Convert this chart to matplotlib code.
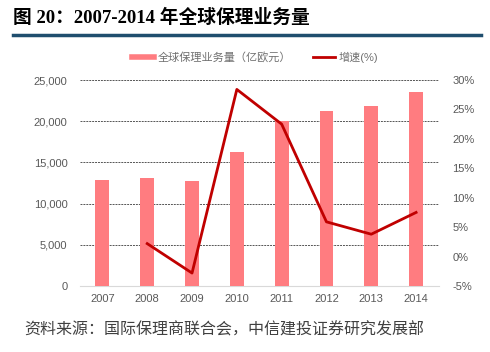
import matplotlib
matplotlib.use("Agg")
import matplotlib.pyplot as plt
from matplotlib.lines import Line2D
from matplotlib.ticker import FuncFormatter, MultipleLocator

years = ["2007", "2008", "2009", "2010", "2011", "2012", "2013", "2014"]
volume = [12900, 13100, 12800, 16300, 20000, 21200, 21900, 23600]
growth_years = ["2008", "2009", "2010", "2011", "2012", "2013", "2014"]
growth = [2.2, -2.8, 28.4, 22.5, 5.9, 3.8, 7.5]

title = "图 20：2007-2014 年全球保理业务量"
source = "资料来源：国际保理商联合会，中信建投证券研究发展部"
bar_label = "全球保理业务量（亿欧元）"
line_label = "增速(%)"

cjk = ["Liberation Sans", "Noto Sans CJK SC"]
plt.rcParams["font.family"] = cjk

fig = plt.figure(figsize=(4.9, 3.52), dpi=100)
ax = fig.add_axes([80 / 490, 66 / 352, 358.5 / 490, 206 / 352])
x = list(range(len(years)))
ax.bar(x, volume, width=0.31, color="#FF7C80", zorder=3)
ax.set_ylim(0, 25000)
ax.set_xlim(-0.5, len(years) - 0.5)
ax.yaxis.set_major_locator(MultipleLocator(5000))
ax.yaxis.set_major_formatter(FuncFormatter(lambda v, p: f"{int(v):,}"))
ax.grid(axis="y", linestyle=(0, (2, 1)), color="#555555", linewidth=0.7, zorder=0)
ax.set_xticks(x)
ax.set_xticklabels(years)
for s in ["top", "right", "left"]:
    ax.spines[s].set_visible(False)
ax.spines["bottom"].set_color("#D9D9D9")
ax.tick_params(axis="both", length=0, colors="#595959", labelsize=8)
ax.tick_params(axis="y", pad=9)
ax.tick_params(axis="x", pad=6)

ax2 = ax.twinx()
gx = [years.index(y) for y in growth_years]
ax2.plot(gx, growth, color="#C00000", linewidth=2, zorder=4)
ax2.set_ylim(-5, 30)
ax2.yaxis.set_major_locator(MultipleLocator(5))
ax2.yaxis.set_major_formatter(FuncFormatter(lambda v, p: f"{int(round(v))}%"))
for s in ["top", "right", "left", "bottom"]:
    ax2.spines[s].set_visible(False)
ax2.tick_params(axis="y", length=0, colors="#595959", labelsize=8, pad=10)

handles = [Line2D([0], [0], color="#FF7C80", linewidth=4),
           Line2D([0], [0], color="#C00000", linewidth=2)]
fig.legend(handles, [bar_label, line_label], loc="center", bbox_to_anchor=(255 / 490, 1 - 57 / 352),
           ncol=2, frameon=False, fontsize=8, labelcolor="#707070", handlelength=2.0,
           columnspacing=2.0, handletextpad=0.3)

fig.text(13 / 490, 1 - 18 / 352, title, fontsize=13.5, fontweight="bold",
         family=["Liberation Serif", "Noto Sans CJK SC"], va="center", ha="left", color="black")
fig.add_artist(Line2D([13 / 490, 481 / 490], [1 - 35 / 352, 1 - 35 / 352], color="#1F4E6E", linewidth=2.5))
fig.text(24 / 490, 1 - 330 / 352, source, fontsize=11.5, color="#404040", va="center", ha="left",
         family=["Noto Sans CJK SC"])

fig.savefig("out.png", dpi=100)
